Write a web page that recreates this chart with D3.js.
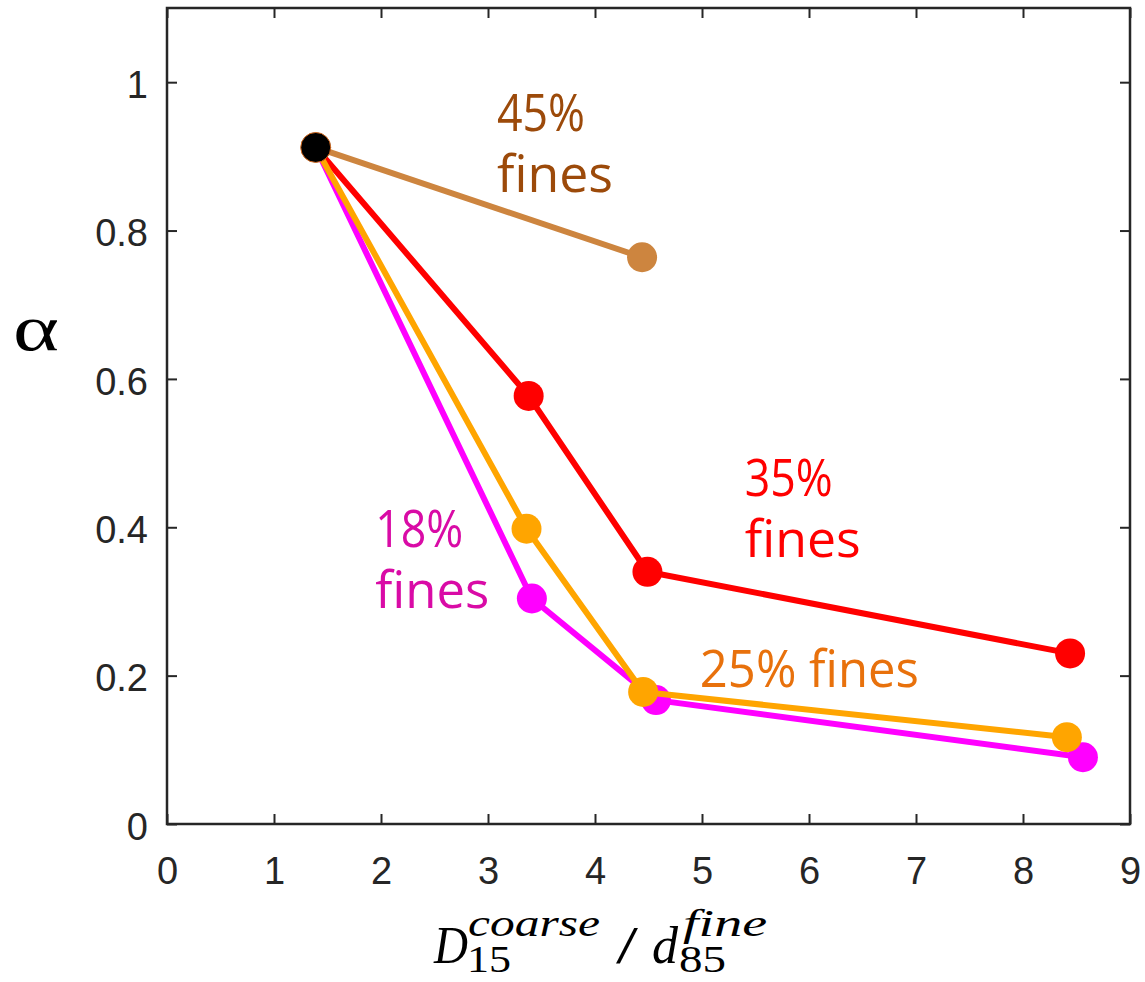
<!DOCTYPE html>
<html>
<head>
<meta charset="utf-8">
<script src="https://cdn.jsdelivr.net/npm/d3@7"></script>
<style>
  body { margin: 0; background: #fff; }
  svg { display: block; }
  .annot { font-family: "Open Sans", "Noto Sans", sans-serif; }
  .tick text { font-family: "Liberation Sans", Arial, sans-serif; }
</style>
</head>
<body>
<svg id="chart"></svg>
<script>
// 数据
const startX = [1.39];
const startY = [0.912];

const fines45X = [1.39, 4.44];
const fines45Y = [0.912, 0.764];

const fines35X = [1.39, 3.38, 4.49, 8.44];
const fines35Y = [0.912, 0.577, 0.340, 0.230];

const fines25X = [1.39, 3.36, 4.45, 8.41];
const fines25Y = [0.912, 0.398, 0.178, 0.117];

const fines18X = [1.39, 3.41, 4.57, 8.56];
const fines18Y = [0.912, 0.304, 0.167, 0.090];

const xTicks = [0, 1, 2, 3, 4, 5, 6, 7, 8, 9];
const yTicks = [0, 0.2, 0.4, 0.6, 0.8, 1];

// 注释标签（数据坐标，左对齐，基线；len 为每行宽度）
const labelLines = [
  { lines: ["45%", "fines"], len: [88, 116], x: 3.084, y: 0.934, color: "#9c4a0a" },
  { lines: ["35%", "fines"], len: [88, 116], x: 5.40, y: 0.442, color: "#ff0000" },
  { lines: ["18%", "fines"], len: [88, 114], x: 1.946, y: 0.373, color: "#d90ba6" },
  { lines: ["25% fines"], len: [219], x: 4.98, y: 0.185, color: "#e8710c" }
];

const width = 1145, height = 982;
const margin = { top: 8, right: 15, bottom: 158, left: 167 };
const innerW = width - margin.left - margin.right;
const innerH = height - margin.top - margin.bottom;

const svg = d3.select("#chart").attr("width", width).attr("height", height);
const g = svg.append("g").attr("transform", `translate(${margin.left},${margin.top})`);

const x = d3.scaleLinear().domain([0, 9]).range([0, innerW]);
const y = d3.scaleLinear().domain([0, 1.1]).range([innerH, 0]);

const axisColor = "#262626";

// 坐标轴（刻度朝内）
const xAxis = g.append("g")
  .attr("transform", `translate(0,${innerH})`)
  .call(d3.axisBottom(x).tickValues(xTicks).tickFormat(d3.format("d"))
    .tickSizeInner(-10).tickSizeOuter(0).tickPadding(33));
const yAxis = g.append("g")
  .call(d3.axisLeft(y).tickValues(yTicks).tickFormat(d => d === 0 || d === 1 ? d : d3.format(".1f")(d))
    .tickSizeInner(-10).tickSizeOuter(0).tickPadding(19));
const xTop = g.append("g")
  .call(d3.axisTop(x).tickValues(xTicks).tickFormat("").tickSizeInner(-10).tickSizeOuter(0));
const yRight = g.append("g")
  .attr("transform", `translate(${innerW},0)`)
  .call(d3.axisRight(y).tickValues(yTicks).tickFormat("").tickSizeInner(-10).tickSizeOuter(0));

[xAxis, yAxis, xTop, yRight].forEach(a => {
  a.select(".domain").remove();
  a.selectAll(".tick line").attr("stroke", axisColor).attr("stroke-width", 2);
  a.selectAll(".tick text").attr("fill", axisColor).style("font-size", "38px");
});
yAxis.selectAll(".tick text").attr("dy", "0.40em");
xAxis.selectAll(".tick text").attr("dy", "0.71em");

g.append("rect")
  .attr("width", innerW).attr("height", innerH)
  .attr("fill", "none").attr("stroke", axisColor).attr("stroke-width", 2.5);

// 折线
const line = d3.line().x(d => x(d[0])).y(d => y(d[1]));
const series = [
  { xs: fines45X, ys: fines45Y, color: "#cd853f" },
  { xs: fines35X, ys: fines35Y, color: "#ff0000" },
  { xs: fines18X, ys: fines18Y, color: "#ff00ff" },
  { xs: fines25X, ys: fines25Y, color: "#ffa500" }
];

series.forEach(s => {
  const pts = s.xs.map((v, i) => [v, s.ys[i]]);
  const sg = g.append("g");
  sg.append("path")
    .attr("d", line(pts))
    .attr("fill", "none")
    .attr("stroke", s.color)
    .attr("stroke-width", 6)
    .attr("stroke-linejoin", "round");
  sg.selectAll("circle")
    .data(pts.slice(1))
    .enter()
    .append("circle")
    .attr("cx", d => x(d[0]))
    .attr("cy", d => y(d[1]))
    .attr("r", 15)
    .attr("fill", s.color);
});

// 起点（黑色）
g.selectAll(".start")
  .data(startX.map((v, i) => [v, startY[i]]))
  .enter()
  .append("circle")
  .attr("class", "start")
  .attr("cx", d => x(d[0]))
  .attr("cy", d => y(d[1]))
  .attr("r", 15)
  .attr("fill", "#000")
  .attr("stroke", "#d2691e")
  .attr("stroke-width", 1);

// 注释文字（多行用 tspan）
labelLines.forEach(l => {
  const t = g.append("text")
    .attr("class", "annot")
    .attr("x", x(l.x))
    .attr("y", y(l.y))
    .attr("fill", l.color)
    .style("font-size", "52px");
  l.lines.forEach((s, i) => {
    t.append("tspan")
      .attr("x", x(l.x))
      .attr("dy", i === 0 ? 0 : 61)
      .attr("textLength", l.len[i])
      .attr("lengthAdjust", "spacingAndGlyphs")
      .text(s);
  });
});

// y 轴标签
svg.append("text")
  .attr("x", 13)
  .attr("y", 350)
  .attr("textLength", 46)
  .attr("lengthAdjust", "spacingAndGlyphs")
  .style("font-family", "'Liberation Serif', 'DejaVu Serif', serif")
  .style("font-size", "66px")
  .attr("fill", "#000")
  .text("α");

// x 轴标签 D15^coarse / d85^fine
const lab = svg.append("g")
  .style("font-family", "'Liberation Serif', 'DejaVu Serif', serif")
  .attr("fill", "#000");
const parts = [
  { t: "D", x: 434, y: 963, size: 53, it: true, len: 34 },
  { t: "coarse", x: 468, y: 936, size: 38, it: true, len: 132 },
  { t: "15", x: 467, y: 972, size: 38, it: false, len: 44 },
  { t: "/", x: 616, y: 963, size: 53, it: false, len: 22 },
  { t: "d", x: 652, y: 963, size: 53, it: true, len: 26 },
  { t: "fine", x: 683, y: 936, size: 38, it: true, len: 84 },
  { t: "85", x: 679, y: 972, size: 38, it: false, len: 47 }
];
parts.forEach(p => {
  lab.append("text")
    .attr("x", p.x).attr("y", p.y)
    .attr("textLength", p.len)
    .attr("lengthAdjust", "spacingAndGlyphs")
    .style("font-size", p.size + "px")
    .style("font-style", p.it ? "italic" : "normal")
    .text(p.t);
});
</script>
</body>
</html>
